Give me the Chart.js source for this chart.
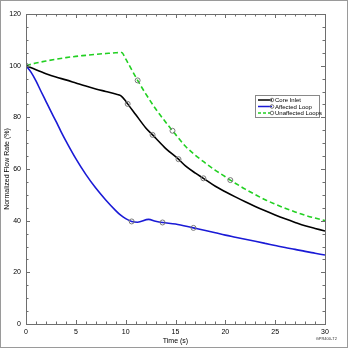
<!DOCTYPE html>
<html>
<head>
<meta charset="utf-8">
<script src="https://cdn.jsdelivr.net/npm/chart.js@4.4.1/dist/chart.umd.min.js"></script>
<style>
  html, body { margin: 0; padding: 0; background: #fff; }
  #wrap { position: relative; width: 348px; height: 348px; box-sizing: border-box; border: 1px solid #9a9a9a; }
  canvas { display: block; }
</style>
</head>
<body>
<div id="wrap"><canvas id="flowChart" width="346" height="346"></canvas></div>
<script>
// Data
const seriesNames = ['Core Inlet', 'Affected Loop', 'Unaffected Loops'];

const coreTime = [0, 1, 2, 3, 4, 5, 6, 7, 8, 9, 9.5, 10, 10.2, 11, 12, 12.7, 13, 14, 15.3, 16, 17, 17.8, 19, 20, 21, 22, 23, 24, 25, 26, 27, 28, 29, 30];
const coreFlow = [100, 98.4, 96.9, 95.6, 94.5, 93.3, 92.1, 91.0, 90.0, 89.0, 88.4, 86.3, 85.2, 81.1, 76.0, 73.2, 72.0, 68.0, 63.8, 61.2, 58.4, 56.4, 53.3, 51.2, 49.2, 47.3, 45.5, 43.8, 42.2, 40.7, 39.3, 38.0, 37.0, 36.0];
const coreMarks = [10.2, 12.7, 15.3, 17.8];

const affectedTime = [0, 0.5, 1, 1.5, 2, 2.5, 3, 3.5, 4, 5, 6, 7, 8, 9, 9.5, 10, 10.6, 11.2, 12.3, 13, 13.7, 15, 16.8, 18, 19, 20, 21, 22, 23, 24, 25, 26, 27, 28, 29, 30];
const affectedFlow = [100, 97.5, 94.1, 90.1, 86.2, 82.3, 78.5, 74.6, 70.9, 64.0, 57.9, 52.6, 48.0, 43.9, 42.1, 40.8, 39.7, 39.4, 40.5, 39.8, 39.3, 38.7, 37.2, 36.2, 35.3, 34.4, 33.6, 32.8, 32.0, 31.2, 30.4, 29.6, 28.9, 28.1, 27.4, 26.7];
const affectedMarks = [10.6, 13.7, 16.8];

const unaffectedTime = [0, 1, 2, 3, 4, 5, 6, 7, 8, 9, 9.6, 10, 11.2, 12, 13, 14, 14.7, 15, 16, 17, 18, 19, 20, 20.5, 21, 22, 23, 24, 25, 26, 27, 28, 29, 30];
const unaffectedFlow = [100, 101, 101.8, 102.5, 103.1, 103.6, 104.0, 104.4, 104.7, 105.0, 105.1, 102.6, 94.3, 89.2, 83.3, 78.2, 74.8, 73.4, 68.8, 65.3, 62.3, 59.5, 57.0, 55.7, 54.5, 52.2, 50.1, 48.1, 46.4, 44.8, 43.4, 42.1, 41.0, 40.0];
const unaffectedMarks = [0, 11.2, 14.7, 20.5];

const xTicks = [0, 5, 10, 15, 20, 25, 30];
const yTicks = [0, 20, 40, 60, 80, 100, 120];

const colors = ['#000000', '#1a1ad6', '#22d022'];

function toPoints(times, values) {
    return times.map((t, i) => ({ x: t, y: values[i] }));
}

function markerRadius(marks) {
    return ctx => (marks.includes(ctx.raw && ctx.raw.x) ? 2.5 : 0);
}

// Frame, inward ticks and boxed legend
const framePlugin = {
    id: 'frame',
    afterDatasetsDraw(chart) {
        const { ctx, chartArea: a, scales } = chart;
        ctx.save();
        ctx.strokeStyle = '#6e6e6e';
        ctx.lineWidth = 1;
        ctx.beginPath();
        for (let t = 0; t <= 30; t += 1) {
            const px = Math.round(scales.x.getPixelForValue(t)) + 0.5;
            const len = t % 5 === 0 ? 4 : 2.5;
            ctx.moveTo(px, a.bottom); ctx.lineTo(px, a.bottom - len);
            ctx.moveTo(px, a.top); ctx.lineTo(px, a.top + len);
        }
        for (let v = 0; v <= 120; v += 5) {
            const py = Math.round(scales.y.getPixelForValue(v)) + 0.5;
            const len = v % 20 === 0 ? 4 : 2.5;
            ctx.moveTo(a.left, py); ctx.lineTo(a.left + len, py);
            ctx.moveTo(a.right, py); ctx.lineTo(a.right - len, py);
        }
        ctx.stroke();
        ctx.strokeRect(Math.round(a.left) + 0.5, Math.round(a.top) + 0.5, Math.round(a.right - a.left), Math.round(a.bottom - a.top));

        // legend box
        const lx = 254, ly = 94, lw = 64, lh = 22;
        ctx.fillStyle = '#fff';
        ctx.fillRect(lx, ly, lw, lh);
        ctx.strokeStyle = '#888';
        ctx.strokeRect(lx + 0.5, ly + 0.5, lw, lh);
        ctx.font = '6px "Liberation Sans", Arial, sans-serif';
        ctx.textBaseline = 'middle';
        seriesNames.forEach((name, i) => {
            const yy = ly + 5 + i * 6.5;
            ctx.strokeStyle = colors[i];
            ctx.lineWidth = 1.5;
            ctx.setLineDash(i === 2 ? [3, 2] : []);
            ctx.beginPath();
            ctx.moveTo(lx + 3, yy); ctx.lineTo(lx + 17, yy);
            ctx.stroke();
            ctx.setLineDash([]);
            ctx.lineWidth = 1;
            ctx.strokeStyle = '#777';
            ctx.beginPath();
            ctx.arc(lx + 17, yy, 1.8, 0, Math.PI * 2);
            ctx.stroke();
            ctx.fillStyle = '#000';
            ctx.fillText(name, lx + 20, yy + 0.5);
        });

        // figure id
        ctx.font = '4px "Liberation Sans", Arial, sans-serif';
        ctx.fillStyle = '#333';
        ctx.textAlign = 'right';
        ctx.fillText('GPR400-T2', 336, 338);
        ctx.restore();
    }
};

const datasets = [
    { times: coreTime, values: coreFlow, marks: coreMarks, dash: [] },
    { times: affectedTime, values: affectedFlow, marks: affectedMarks, dash: [] },
    { times: unaffectedTime, values: unaffectedFlow, marks: unaffectedMarks, dash: [5, 3] }
].map((s, i) => ({
    label: seriesNames[i],
    data: toPoints(s.times, s.values),
    borderColor: colors[i],
    borderWidth: 1.6,
    borderDash: s.dash,
    cubicInterpolationMode: 'monotone',
    pointRadius: markerRadius(s.marks),
    pointStyle: 'circle',
    pointBorderColor: '#777',
    pointBorderWidth: 1,
    pointBackgroundColor: 'rgba(0,0,0,0)'
}));

const tickFont = { family: '"Liberation Sans", Arial, sans-serif', size: 7 };

new Chart(document.getElementById('flowChart'), {
    type: 'line',
    data: { datasets },
    options: {
        responsive: false,
        animation: false,
        layout: { padding: { top: 13, right: 22, left: 0, bottom: 0 } },
        plugins: { legend: { display: false }, tooltip: { enabled: false } },
        scales: {
            x: {
                type: 'linear',
                min: 0,
                max: 30,
                afterBuildTicks: axis => { axis.ticks = xTicks.map(v => ({ value: v })); },
                afterFit: axis => { axis.height = 23; },
                grid: { display: false, drawTicks: false },
                border: { display: false },
                ticks: { color: '#000', font: tickFont, padding: 4, maxRotation: 0 },
                title: { display: true, text: 'Time (s)', color: '#000', font: tickFont, padding: { top: 0, bottom: 2 } }
            },
            y: {
                type: 'linear',
                min: 0,
                max: 120,
                afterBuildTicks: axis => { axis.ticks = yTicks.map(v => ({ value: v })); },
                afterFit: axis => { axis.width = 25; },
                grid: { display: false, drawTicks: false },
                border: { display: false },
                ticks: { color: '#000', font: tickFont, padding: 5 },
                title: { display: true, text: 'Normalized Flow Rate (%)', color: '#000', font: tickFont, padding: { top: 2, bottom: 0 } }
            }
        }
    },
    plugins: [framePlugin]
});
</script>
</body>
</html>
